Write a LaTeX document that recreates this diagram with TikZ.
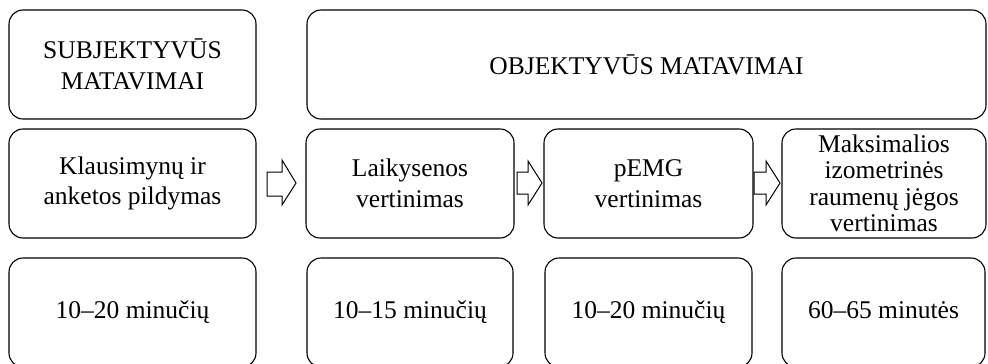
\documentclass[tikz,border=0pt]{standalone}
\usepackage{fontspec}
\setmainfont{Liberation Serif}
\begin{document}
\begin{tikzpicture}[x=1pt,y=-1pt,
  box/.style={draw, line width=1.1pt, rounded corners=14pt, inner sep=0pt,
    align=center, font=\fontsize{25.5}{30.5}\selectfont},
  tight/.style={font=\fontsize{25.5}{26.5}\selectfont},
  barrow/.style={draw, line width=1pt, fill=white, line join=miter}]
\useasboundingbox (0,0) rectangle (988,364);
\node[box, minimum width=247pt, minimum height=109pt] (subj) at (132.5,64.5) {SUBJEKTYVŪS\\MATAVIMAI};
\node[box, minimum width=679pt, minimum height=109pt] (obj) at (646.5,64.5) {OBJEKTYVŪS MATAVIMAI};
\node[box, minimum width=247pt, minimum height=109pt] (k) at (132.5,183.5) {Klausimynų ir\\anketos pildymas};
\node[box, minimum width=208pt, minimum height=109pt] (l) at (410,183.5) {Laikysenos\\vertinimas};
\node[box, minimum width=209pt, minimum height=109pt] (p) at (648.5,183.5) {pEMG\\vertinimas};
\node[box, tight, minimum width=204pt, minimum height=109pt] (m) at (884,183.5) {Maksimalios\\izometrinės\\raumenų jėgos\\vertinimas};
\node[box, minimum width=247pt, minimum height=109pt] (t1) at (132.5,312.5) {\strut 10–20 minučių};
\node[box, minimum width=206pt, minimum height=109pt] (t2) at (410,312.5) {\strut 10–15 minučių};
\node[box, minimum width=207pt, minimum height=109pt] (t3) at (648.5,312.5) {\strut 10–20 minučių};
\node[box, minimum width=203pt, minimum height=109pt] (t4) at (883.5,312.5) {\strut 60–65 minutės};
\draw[barrow] (267,172) -- (282,172) -- (282,160) -- (296,183) -- (282,205) -- (282,196) -- (267,196) -- cycle;
\draw[barrow] (517,172) -- (528,172) -- (528,161) -- (542,183) -- (528,205) -- (528,194) -- (517,194) -- cycle;
\draw[barrow] (754,172) -- (766,172) -- (766,161) -- (780,183) -- (766,205) -- (766,194) -- (754,194) -- cycle;
\end{tikzpicture}
\end{document}
